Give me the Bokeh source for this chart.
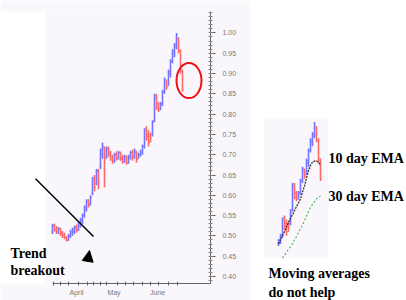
import numpy as np
from bokeh.plotting import figure
from bokeh.layouts import row
from bokeh.models import (ColumnDataSource, FixedTicker, Label, Arrow, NormalHead,
                          BoxAnnotation, NumeralTickFormatter, Title)
from bokeh.embed import file_html
from bokeh.resources import INLINE

# ---------------- data ----------------
day = list(range(66))
open_ = [0.510, 0.525, 0.515, 0.510, 0.518, 0.508, 0.503, 0.497, 0.490, 0.500,
         0.505, 0.510, 0.522, 0.515, 0.525, 0.535, 0.550, 0.565, 0.585, 0.578,
         0.605, 0.645, 0.630, 0.660, 0.670, 0.700, 0.715, 0.695, 0.715, 0.705,
         0.695, 0.685, 0.700, 0.690, 0.705, 0.690, 0.683, 0.695, 0.680, 0.690,
         0.705, 0.695, 0.705, 0.690, 0.700, 0.705, 0.720, 0.765, 0.750, 0.745,
         0.750, 0.785, 0.840, 0.825, 0.810, 0.825, 0.855, 0.880, 0.870, 0.900,
         0.930, 0.950, 0.965, 0.985, 0.955, 0.905]
high = [0.530, 0.530, 0.525, 0.522, 0.520, 0.512, 0.508, 0.500, 0.505, 0.515,
        0.520, 0.525, 0.528, 0.535, 0.545, 0.555, 0.575, 0.590, 0.590, 0.600,
        0.645, 0.650, 0.665, 0.665, 0.715, 0.730, 0.720, 0.720, 0.720, 0.710,
        0.700, 0.705, 0.708, 0.710, 0.708, 0.700, 0.700, 0.698, 0.700, 0.710,
        0.712, 0.715, 0.710, 0.705, 0.712, 0.725, 0.765, 0.770, 0.760, 0.755,
        0.785, 0.850, 0.850, 0.830, 0.830, 0.860, 0.890, 0.885, 0.910, 0.935,
        0.960, 0.975, 1.000, 0.990, 0.960, 0.910]
low = [0.505, 0.510, 0.505, 0.505, 0.500, 0.495, 0.492, 0.486, 0.488, 0.495,
       0.500, 0.505, 0.508, 0.512, 0.520, 0.530, 0.545, 0.560, 0.570, 0.575,
       0.600, 0.610, 0.625, 0.615, 0.665, 0.690, 0.620, 0.690, 0.695, 0.685,
       0.678, 0.680, 0.685, 0.688, 0.685, 0.678, 0.680, 0.675, 0.678, 0.688,
       0.685, 0.690, 0.680, 0.690, 0.695, 0.700, 0.715, 0.735, 0.720, 0.730,
       0.745, 0.780, 0.810, 0.805, 0.810, 0.820, 0.850, 0.860, 0.870, 0.890,
       0.925, 0.940, 0.960, 0.950, 0.900, 0.855]
close = [0.525, 0.515, 0.510, 0.518, 0.505, 0.500, 0.495, 0.490, 0.500, 0.510,
         0.515, 0.520, 0.512, 0.530, 0.540, 0.550, 0.570, 0.585, 0.575, 0.595,
         0.640, 0.620, 0.660, 0.630, 0.710, 0.720, 0.690, 0.715, 0.700, 0.690,
         0.683, 0.700, 0.690, 0.705, 0.690, 0.682, 0.695, 0.680, 0.695, 0.705,
         0.695, 0.710, 0.688, 0.700, 0.710, 0.720, 0.760, 0.745, 0.730, 0.740,
         0.780, 0.845, 0.815, 0.810, 0.825, 0.855, 0.885, 0.865, 0.905, 0.930,
         0.955, 0.970, 0.995, 0.955, 0.910, 0.860]

month_labels = ["April", "May", "June"]
month_label_pos = [12, 30.75, 52.5]
week_ticks = [0.5, 4, 8, 13, 17.5, 20.5, 24, 27, 32.5, 36.5, 40.5, 45, 49, 53, 58, 62.5]
price_ticks = [0.40, 0.45, 0.50, 0.55, 0.60, 0.65, 0.70, 0.75, 0.80, 0.85, 0.90, 0.95, 1.00]

# inset: last part of the same series with moving averages
inset_first_day = 44
ema10_day = list(range(44, 66))
ema10 = [0.700, 0.710, 0.720, 0.730, 0.742, 0.753, 0.763, 0.772, 0.782, 0.792, 0.801,
         0.811, 0.827, 0.843, 0.862, 0.881, 0.893, 0.901, 0.904, 0.904, 0.901, 0.893]
ema30_day = list(range(46, 66))
ema30 = [0.665, 0.672, 0.680, 0.687, 0.693, 0.700, 0.710, 0.718, 0.728, 0.737,
         0.746, 0.757, 0.768, 0.779, 0.790, 0.797, 0.804, 0.811, 0.815, 0.818]

# trend line annotation (day, price)
trend_x = [-8.5, 20.5]
trend_y = [0.641, 0.4985]

# ---------------- styling ----------------
UP = "#7474ff"
DOWN = "#ff6868"
PANEL = "#f9f7fc"
SERIF = "Liberation Serif"
SANS = "Liberation Sans"

d = np.array(day, dtype=float)
o = np.array(open_); c = np.array(close)
colors = [UP if cc >= oo else DOWN for oo, cc in zip(o, c)]
src = ColumnDataSource(dict(x=d, xl=d - 0.6, xr=d + 0.6, o=o, h=high, l=low, c=c, color=colors))

def draw_bars(fig, source):
    fig.segment(x0="x", y0="l", x1="x", y1="h", color="color", line_width=1.6, source=source)
    fig.segment(x0="xl", y0="o", x1="x", y1="o", color="color", line_width=1, source=source)
    fig.segment(x0="x", y0="c", x1="xr", y1="c", color="color", line_width=1, source=source)

H = 300
TOP, BOTTOM = 11, 17

# ---------------- main chart ----------------
X0, X1 = -26, 79
p = figure(width=250, height=H, x_range=(X0, X1), y_range=(0.3828, 1.0527),
           output_backend="svg", toolbar_location=None, y_axis_location="right",
           min_border_left=0, min_border_right=40, min_border_top=TOP, min_border_bottom=BOTTOM)
p.background_fill_color = "white"
p.border_fill_color = PANEL
p.outline_line_color = None
p.grid.visible = False

p.add_layout(BoxAnnotation(left=-3.5, fill_color=PANEL, fill_alpha=1, line_color=None,
                           level="underlay"))

draw_bars(p, src)

# x axis
xa = p.xaxis[0]
xa.bounds = (0, X1)
xa.ticker = FixedTicker(ticks=month_label_pos, minor_ticks=week_ticks)
xa.major_label_overrides = {pos: lab for pos, lab in zip(month_label_pos, month_labels)}
xa.major_tick_in = 0; xa.major_tick_out = 0
xa.minor_tick_in = 2; xa.minor_tick_out = 2
xa.axis_line_color = "#666666"; xa.minor_tick_line_color = "#666666"
xa.major_label_text_font = SANS
xa.major_label_text_font_size = "7px"; xa.major_label_text_color = "#777777"
xa.major_label_standoff = 3

# y axis (right)
ya = p.yaxis[0]
ya.ticker = FixedTicker(ticks=price_ticks, minor_ticks=list(np.round(np.arange(0.39, 1.06, 0.01), 2)))
ya.formatter = NumeralTickFormatter(format="0.00")
ya.major_tick_in = 0; ya.major_tick_out = 5
ya.minor_tick_in = 2; ya.minor_tick_out = 2
ya.axis_line_color = "#666666"; ya.major_tick_line_color = "#666666"; ya.minor_tick_line_color = "#888888"
ya.major_label_text_font = SANS
ya.major_label_text_font_size = "7px"; ya.major_label_text_color = "#777777"
ya.major_label_standoff = 7

# trend line + arrowhead
p.add_layout(Arrow(x_start=trend_x[0], y_start=trend_y[0], x_end=trend_x[1], y_end=trend_y[1],
                   end=None, line_color="black", line_width=1.5))
p.add_layout(Arrow(x_start=17.5, y_start=0.4345, x_end=18.5, y_end=0.464, line_alpha=0,
                   end=NormalHead(size=11, fill_color="black", line_color="black")))

# red circle around the last bars
p.ellipse(x=[day[-1] + 3.25], y=[(high[-1] + low[-1]) / 2], width=25, height=35,
          width_units="screen", height_units="screen", fill_color=None,
          line_color="#ee1111", line_width=2)

for txt, yy in (("Trend", 0.4567), ("breakout", 0.4148)):
    p.add_layout(Label(x=-21, y=yy, text=txt, text_font=SERIF, text_font_style="bold",
                       text_font_size="14px", text_baseline="middle", text_color="black"))

# ---------------- inset ----------------
q = figure(width=156, height=H, x_range=(30, 108), y_range=(0.6025, 1.2719),
           output_backend="svg", toolbar_location=None,
           x_axis_location=None, y_axis_location=None,
           min_border_left=0, min_border_right=0, min_border_top=TOP, min_border_bottom=BOTTOM)
q.background_fill_color = "white"
q.border_fill_color = "white"
q.outline_line_color = None
q.grid.visible = False

q.add_layout(BoxAnnotation(left=36.5, right=69, bottom=0.666, top=1.0084,
                           fill_color=PANEL, fill_alpha=1, line_color=None, level="underlay"))

k = inset_first_day
src2 = ColumnDataSource({key: list(v)[k:] for key, v in src.data.items()})
draw_bars(q, src2)
q.line(ema10_day, ema10, line_color="#333333", line_width=1.3, line_dash="2 1")
q.line(ema30_day, ema30, line_color="#55bb55", line_width=1.2, line_dash="2 2")

for txt, xx, yy in (("10 day EMA", 69, 0.910), ("30 day EMA", 69, 0.816),
                    ("Moving averages", 39, 0.627)):
    q.add_layout(Label(x=xx, y=yy, text=txt, text_font=SERIF, text_font_style="bold",
                       text_font_size="14px", text_baseline="middle", text_color="black"))

q.add_layout(Title(text="do not help", align="left", offset=18, standoff=0,
                   vertical_align="middle", text_font=SERIF, text_font_style="bold",
                   text_font_size="14px", text_color="black"), "below")

layout = row(p, q)
open("out.html", "w").write(file_html(layout, INLINE))
